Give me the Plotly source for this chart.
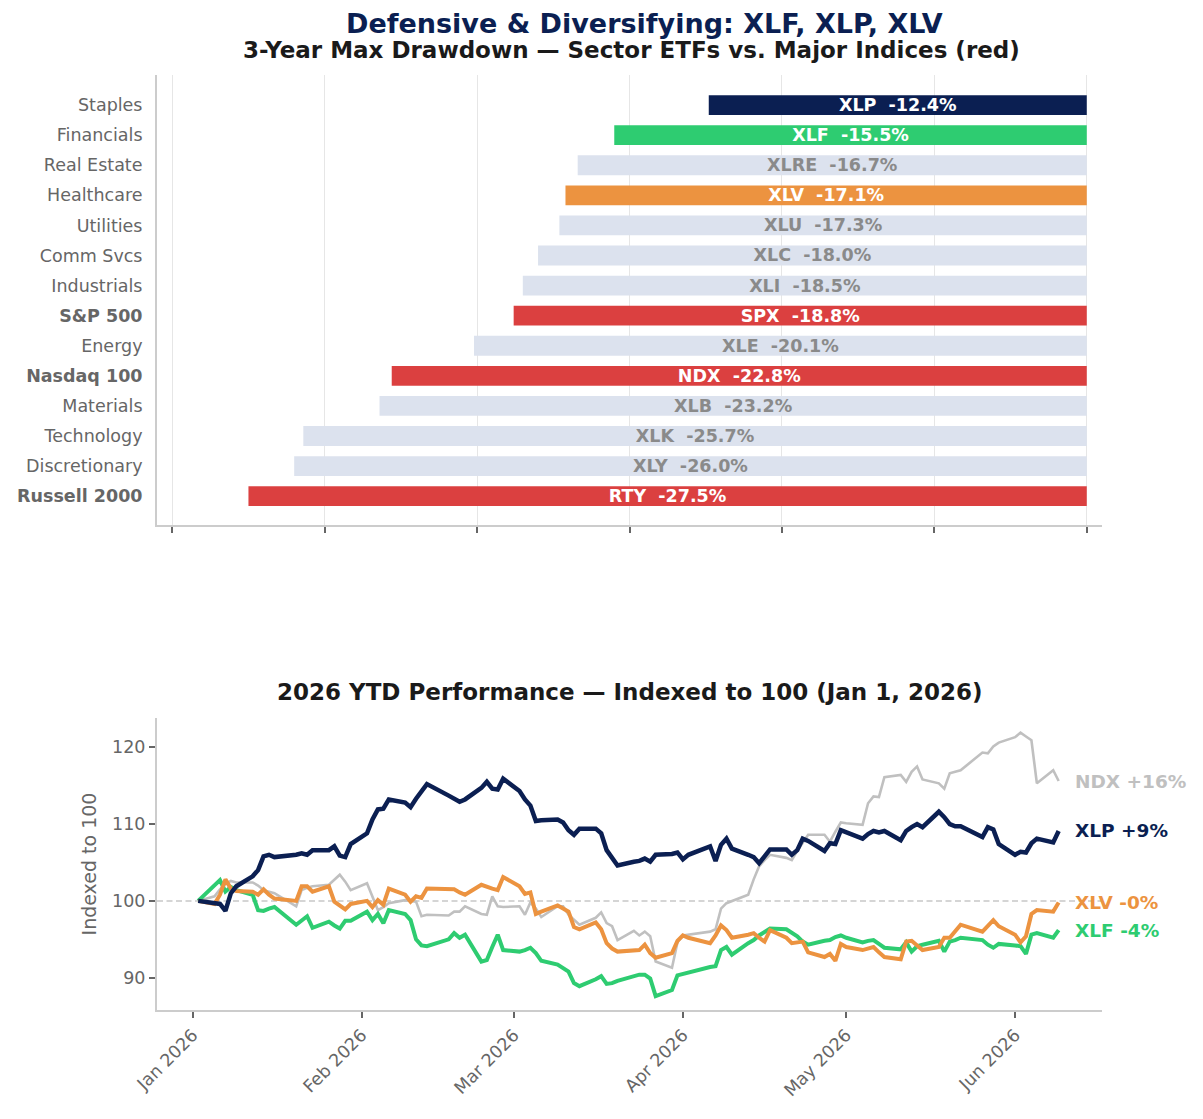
import plotly.graph_objects as go
import pandas as pd

FONT = "DejaVu Sans"
NAVY = "#0B1F52"
GREEN = "#2ECC71"
ORANGE = "#EC9340"
RED = "#DB4040"
LIGHT = "#DCE2EE"
GRAY_LINE = "#C0C0C0"

# ---------------- Bar chart data ----------------
categories = ["Staples", "Financials", "Real Estate", "Healthcare", "Utilities", "Comm Svcs",
              "Industrials", "S&P 500", "Energy", "Nasdaq 100", "Materials", "Technology",
              "Discretionary", "Russell 2000"]
tickers = ["XLP", "XLF", "XLRE", "XLV", "XLU", "XLC", "XLI", "SPX", "XLE", "NDX", "XLB", "XLK",
           "XLY", "RTY"]
drawdowns = [-12.4, -15.5, -16.7, -17.1, -17.3, -18.0, -18.5, -18.8, -20.1, -22.8, -23.2, -25.7,
             -26.0, -27.5]
highlight_colors = {"XLP": NAVY, "XLF": GREEN, "XLV": ORANGE}
index_tickers = ["SPX", "NDX", "RTY"]
bar_xticks = [-30, -25, -20, -15, -10, -5, 0]

# ---------------- Line chart data ----------------
holidays = ["2026-01-19", "2026-02-16", "2026-04-03", "2026-05-25"]
dates = pd.bdate_range("2026-01-02", "2026-06-09").drop(pd.to_datetime(holidays))

xlp = [100.0, 99.8, 99.6, 98.7, 101.0, 101.9, 103.2, 104.0, 105.8, 106.0, 105.7, 106.0, 106.2, 106.0, 106.6, 106.6, 107.1, 105.9, 105.7, 107.4,
       108.8, 110.6, 111.9, 112.0, 113.2, 112.8, 112.2, 113.3, 114.3, 115.2, 113.7, 113.3, 112.9, 113.2, 114.7, 115.5, 114.6, 114.5, 115.9,
       114.3, 113.2, 112.4, 110.4, 110.5, 110.6, 110.2, 109.2, 108.6, 109.4, 109.4, 108.8, 106.6, 105.5, 104.6, 105.1, 105.2, 105.5, 105.1, 106.0, 106.1, 106.3,
       105.4, 106.0, 107.1, 105.2, 107.3, 108.1, 106.8, 106.0, 105.7, 104.9, 105.7, 106.7, 106.7, 106.0, 106.6, 108.1, 107.8, 106.5, 107.5, 107.4, 109.2,
       108.9, 108.1, 108.7, 109.1, 108.9, 109.1, 107.9, 109.1, 109.6, 110.0, 109.6, 111.6, 110.9, 110.0, 109.7, 109.7, 108.3, 109.6, 109.3, 107.4,
       106.0, 106.4, 106.3, 107.5, 108.1, 107.6, 109.1]
ndx = [100.0, 100.6, 101.5, 102.2, 102.6, 102.4, 102.4, 102.0, 101.4, 101.2, 101.0, 99.3, 101.4, 101.7, 101.9, 102.1, 102.8, 103.4, 102.5, 101.4,
       102.3, 100.5, 98.8, 99.2, 99.7, 100.1, 100.0, 99.9, 98.0, 98.2, 98.1, 98.6, 98.6, 99.3, 98.3, 98.2, 100.6, 99.3, 99.2,
       99.3, 98.2, 99.8, 99.0, 97.9, 99.3, 99.3, 98.2, 97.6, 96.9, 97.8, 98.5, 97.1, 96.7, 94.9, 96.1, 95.5, 96.0, 95.4, 92.1, 91.3, 94.6,
       95.5, 95.6, 96.0, 96.3, 99.0, 99.7, 100.0, 100.8, 102.8, 104.5, 105.3, 106.0, 105.6, 105.3, 106.5, 107.5, 108.6, 108.6, 107.7, 109.0, 110.2,
       110.1, 109.9, 112.7, 113.6, 113.5, 116.1, 116.4, 115.5, 116.8, 117.5, 115.8, 115.3, 114.6, 116.6, 116.8, 117.0, 119.3, 119.2, 120.1, 120.6,
       121.3, 121.9, 121.4, 120.9, 115.3, 117.0, 115.6]
xlv = [100.0, 99.6, 100.8, 102.8, 101.6, 101.3, 101.2, 100.8, 101.5, 100.8, 100.3, 100.0, 101.9, 101.9, 101.2, 101.9, 99.9, 99.4, 98.9, 99.6,
       100.0, 99.2, 100.1, 99.5, 101.6, 100.8, 99.9, 100.6, 100.4, 101.6, 101.5, 101.5, 101.1, 100.8, 102.1, 101.8, 101.6, 101.4, 103.1,
       101.9, 100.9, 101.1, 98.3, 98.6, 99.4, 99.0, 98.6, 96.6, 96.3, 97.2, 96.3, 94.5, 93.8, 93.4, 93.6, 93.6, 94.3, 93.2, 92.6, 93.2, 94.8,
       95.5, 95.2, 94.5, 95.5, 96.8, 96.2, 95.2, 95.6, 95.8, 95.2, 94.7, 96.2, 95.2, 94.5, 94.6, 94.7, 93.3, 92.7, 93.1, 92.2, 94.4,
       94.0, 93.6, 93.8, 94.0, 93.3, 92.7, 92.4, 94.7, 94.8, 94.2, 93.6, 94.0, 95.2, 95.2, 96.0, 96.9, 96.0, 96.8, 97.5, 96.7,
       95.6, 94.6, 95.4, 98.3, 98.8, 98.6, 99.8]
xlf = [100.0, 102.0, 102.7, 101.2, 101.8, 101.4, 100.8, 98.8, 98.7, 99.0, 99.2, 96.9, 97.5, 98.0, 96.5, 97.3, 96.8, 96.4, 97.4, 97.4,
       98.6, 97.5, 98.3, 97.1, 98.8, 98.3, 97.5, 95.0, 94.2, 94.1, 95.0, 95.8, 95.2, 95.6, 92.1, 92.3, 94.0, 95.6, 93.6,
       93.4, 93.6, 93.9, 93.2, 92.2, 91.7, 91.2, 90.8, 89.3, 88.9, 89.8, 90.2, 89.2, 89.3, 89.6, 90.3, 90.4, 90.4, 89.9, 87.6, 88.4, 90.3,
       90.5, 90.7, 91.4, 91.5, 93.6, 94.0, 93.0, 94.5, 94.9, 95.5, 96.0, 96.4, 96.3, 95.8, 95.4, 94.7, 94.3, 94.8, 94.9, 95.3, 95.5,
       95.2, 94.6, 94.8, 94.9, 94.4, 93.9, 93.7, 94.6, 93.4, 94.1, 94.3, 94.8, 93.4, 94.7, 94.9, 95.2, 94.9, 94.3, 93.9, 94.4,
       94.2, 94.1, 93.1, 95.6, 95.8, 95.2, 96.2]

month_ticks = ["2026-01-01", "2026-02-01", "2026-03-01", "2026-04-01", "2026-05-01", "2026-06-01"]
month_labels = ["Jan 2026", "Feb 2026", "Mar 2026", "Apr 2026", "May 2026", "Jun 2026"]
line_yticks = [90, 100, 110, 120]

# ---------------- Build figure ----------------
fig = go.Figure()

bar_colors, text_colors, bar_text, tick_text = [], [], [], []
for cat, tk, v in zip(categories, tickers, drawdowns):
    if tk in highlight_colors:
        bar_colors.append(highlight_colors[tk]); text_colors.append("white")
    elif tk in index_tickers:
        bar_colors.append(RED); text_colors.append("white")
    else:
        bar_colors.append(LIGHT); text_colors.append("#8a8a8a")
    bar_text.append(f"<b>{tk}  {v:.1f}%</b>")
    label = cat.replace("&", "&amp;")
    tick_text.append(f"<b>{label}</b>" if tk in index_tickers else label)

fig.add_trace(go.Bar(
    x=drawdowns, y=categories, orientation="h", width=0.66,
    marker=dict(color=bar_colors, line=dict(width=0)),
    text=bar_text, textposition="inside", insidetextanchor="middle", textangle=0,
    constraintext="none",
    insidetextfont=dict(family=FONT, size=17.5, color=text_colors),
    xaxis="x", yaxis="y", hoverinfo="skip", showlegend=False))

series = [("NDX", ndx, GRAY_LINE, 2.6), ("XLF", xlf, GREEN, 4.0),
          ("XLV", xlv, ORANGE, 4.0), ("XLP", xlp, NAVY, 4.5)]
for name, vals, col, w in series:
    fig.add_trace(go.Scatter(x=dates, y=vals, mode="lines", name=name,
                             line=dict(color=col, width=w),
                             xaxis="x2", yaxis="y2", hoverinfo="skip", showlegend=False))

annotations = [
    dict(text="<b>Defensive &amp; Diversifying: XLF, XLP, XLV</b>", xref="paper", yref="paper",
         x=0.5164, y=1.0555, xanchor="center", yanchor="middle", showarrow=False,
         font=dict(family=FONT, size=27, color=NAVY)),
    dict(text="<b>3-Year Max Drawdown — Sector ETFs vs. Major Indices (red)</b>", xref="paper", yref="paper",
         x=0.5016, y=1.0268, xanchor="center", yanchor="middle", showarrow=False,
         font=dict(family=FONT, size=23, color="#1a1a1a")),
    dict(text="<b>2026 YTD Performance — Indexed to 100 (Jan 1, 2026)</b>", xref="paper", yref="paper",
         x=0.5005, y=0.3401, xanchor="center", yanchor="middle", showarrow=False,
         font=dict(family=FONT, size=23, color="#1a1a1a")),
]
for name, vals, col, w in series:
    last = vals[-1]
    annotations.append(dict(text=f"<b>{name} {last - 100:+.0f}%</b>", x=dates[-1], y=last,
                            xref="x2", yref="y2", xanchor="left", yanchor="middle", xshift=14,
                            showarrow=False, font=dict(family=FONT, size=18.5, color=col)))

fig.update_layout(
    width=1203, height=1119,
    margin=dict(l=157, r=101, t=75, b=109),
    paper_bgcolor="white", plot_bgcolor="white",
    font=dict(family=FONT, color="#666666"),
    showlegend=False,
    annotations=annotations,
    xaxis=dict(domain=[0, 1], anchor="y", range=[-30.5, 0.5], tickvals=bar_xticks,
               showticklabels=False, ticks="outside", ticklen=6, tickwidth=1.5, tickcolor="#666666",
               showgrid=True, gridcolor="#e6e6e6", gridwidth=1, zeroline=False,
               showline=True, linecolor="#cccccc", linewidth=2),
    yaxis=dict(domain=[0.5187, 1], anchor="x", type="category", categoryorder="array",
               categoryarray=categories, range=[13.96, -1.0], tickvals=categories, ticktext=tick_text,
               tickfont=dict(family=FONT, size=17.5, color="#666666"), ticks="", ticklabelstandoff=9,
               showgrid=False, zeroline=False, showline=True, linecolor="#cccccc", linewidth=2),
    xaxis2=dict(domain=[0, 1], anchor="y2", type="date",
                range=["2025-12-25 10:30", "2026-06-16 23:00"],
                tickvals=month_ticks, ticktext=month_labels, tickangle=-45,
                tickfont=dict(family=FONT, size=17.5, color="#666666"),
                ticks="outside", ticklen=6, tickwidth=1.5, tickcolor="#666666",
                showgrid=False, zeroline=False, showline=True, linecolor="#cccccc", linewidth=2),
    yaxis2=dict(domain=[0, 0.3123], anchor="x2", range=[85.8, 123.8], tickvals=line_yticks,
                tickfont=dict(family=FONT, size=17.5, color="#666666"),
                ticks="outside", ticklen=6, tickwidth=1.5, tickcolor="#666666",
                showgrid=False, zeroline=False, showline=True, linecolor="#cccccc", linewidth=2,
                title=dict(text="Indexed to 100", font=dict(family=FONT, size=19, color="#666666"),
                           standoff=10)),
    shapes=[dict(type="line", xref="x2 domain", x0=0, x1=1, yref="y2", y0=100, y1=100,
                 line=dict(color="#c8c8c8", width=1.5, dash="6px,3.5px"), layer="below")],
)

fig.write_html("out.html")
